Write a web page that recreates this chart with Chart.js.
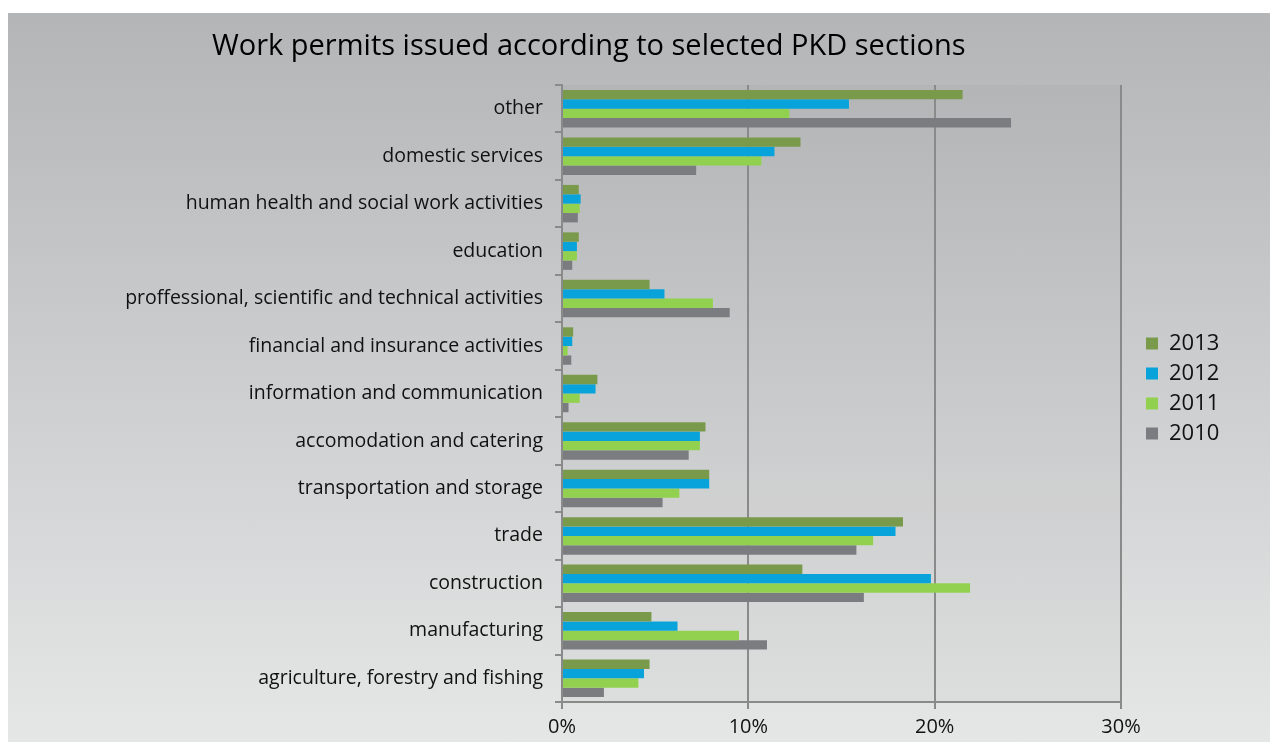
<!DOCTYPE html>
<html>
<head>
<meta charset="utf-8">
<title>Work permits issued according to selected PKD sections</title>
<script src="https://cdn.jsdelivr.net/npm/chart.js@4.4.1/dist/chart.umd.min.js"></script>
<style>
  html, body { margin: 0; padding: 0; background: #fff; }
  body { width: 1270px; height: 742px; position: relative; overflow: hidden; font-family: "Open Sans", "Liberation Sans", Arial, sans-serif; }
  #panel { position: absolute; left: 8px; top: 13px; width: 1262px; height: 729px; background: linear-gradient(to bottom, #b4b5b7, #e5e6e6); }
  #title { position: absolute; left: 204px; top: 16px; font-size: 29px; line-height: 29px; color: #000; white-space: nowrap; }
  #wrap { position: absolute; left: 0; top: 0; width: 1262px; height: 729px; }
</style>
</head>
<body>
<div id="panel">
  <div id="wrap"><canvas id="chart"></canvas></div>
  <div id="title">Work permits issued according to selected PKD sections</div>
</div>
<script>
const categories = [
  'other',
  'domestic services',
  'human health and social work activities',
  'education',
  'proffessional, scientific and technical activities',
  'financial and insurance activities',
  'information and communication',
  'accomodation and catering',
  'transportation and storage',
  'trade',
  'construction',
  'manufacturing',
  'agriculture, forestry and fishing'
];
const years = ['2013', '2012', '2011', '2010'];
// shares in %
const values2013 = [21.5, 12.8, 0.9, 0.9, 4.7, 0.6, 1.9, 7.7, 7.9, 18.3, 12.9, 4.8, 4.7];
const values2012 = [15.4, 11.4, 1.0, 0.8, 5.5, 0.55, 1.8, 7.4, 7.9, 17.9, 19.8, 6.2, 4.4];
const values2011 = [12.2, 10.7, 0.95, 0.8, 8.1, 0.3, 0.95, 7.4, 6.3, 16.7, 21.9, 9.5, 4.1];
const values2010 = [24.1, 7.2, 0.85, 0.55, 9.0, 0.5, 0.35, 6.8, 5.4, 15.8, 16.2, 11.0, 2.25];
const xTicks = [0, 10, 20, 30];
const colors = ['#7a9a4b', '#09a3db', '#92d14f', '#7b7c80'];

const family = '"Open Sans", "Liberation Sans", Arial, sans-serif';
const axisColor = '#8a8a8a';

// light fill behind the plot area
const plotFill = {
  id: 'plotFill',
  beforeDraw(chart) {
    const { ctx, chartArea: a } = chart;
    ctx.save();
    ctx.fillStyle = 'rgba(0,0,0,0.025)';
    ctx.fillRect(a.left, a.top, a.right - a.left, a.bottom - a.top);
    ctx.restore();
  }
};

// keep the legend box a fixed width and nudge its items
const legendPlace = {
  id: 'legendPlace',
  beforeLayout(chart) {
    const legend = chart.legend;
    if (!legend || legend._placed) return;
    const fit = legend.fit.bind(legend);
    legend.fit = function () { fit(); this.width = 149; };
    const draw = legend.draw.bind(legend);
    legend.draw = function () {
      chart.ctx.save();
      chart.ctx.translate(17, -5);
      draw();
      chart.ctx.restore();
    };
    legend._placed = true;
  }
};

const seriesValues = [values2013, values2012, values2011, values2010];

new Chart(document.getElementById('chart'), {
  type: 'bar',
  data: {
    labels: categories,
    datasets: years.map((y, i) => ({
      label: y,
      data: seriesValues[i],
      backgroundColor: colors[i],
      borderWidth: 0,
      categoryPercentage: 0.79,
      barPercentage: 1
    }))
  },
  options: {
    indexAxis: 'y',
    responsive: true,
    maintainAspectRatio: false,
    animation: false,
    layout: { padding: { top: 72, left: 0, right: 0, bottom: 0 } },
    plugins: {
      title: { display: false },
      tooltip: { enabled: false },
      legend: {
        position: 'right',
        fullSize: false,
        labels: {
          color: '#111',
          font: { size: 22, family },
          boxWidth: 12,
          boxHeight: 12,
          padding: 8
        }
      }
    },
    scales: {
      x: {
        min: 0,
        max: 30,
        afterBuildTicks(scale) { scale.ticks = xTicks.map(v => ({ value: v })); },
        ticks: {
          callback: v => v + '%',
          color: '#111',
          font: { size: 20, family },
          padding: 6
        },
        grid: { color: axisColor, lineWidth: 2, tickLength: 7 },
        border: { display: true, color: axisColor, width: 2 },
        afterFit(scale) { scale.height = 40; }
      },
      y: {
        ticks: {
          color: '#111',
          font: { size: 19.5, family },
          padding: 12
        },
        grid: { drawOnChartArea: false, color: axisColor, lineWidth: 2, tickLength: 7 },
        border: { display: true, color: axisColor, width: 2 },
        afterFit(scale) { scale.width = 554; }
      }
    }
  },
  plugins: [plotFill, legendPlace]
});
</script>
</body>
</html>
